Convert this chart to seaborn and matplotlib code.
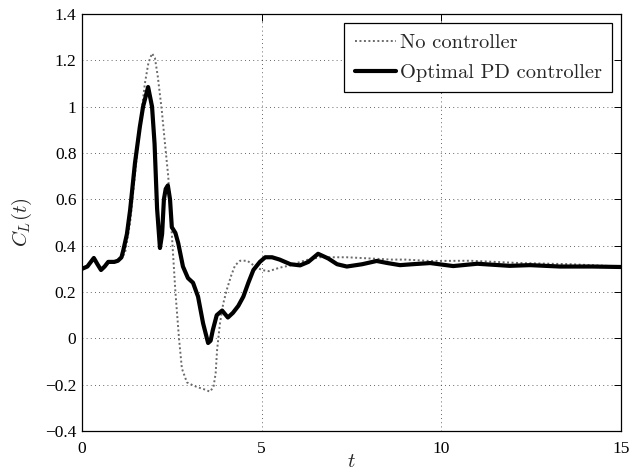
import numpy as np
import pandas as pd
import matplotlib
matplotlib.use("Agg")
import matplotlib.pyplot as plt
import seaborn as sns

# ---- data ----
t_pd = [0, 0.15, 0.33, 0.43, 0.53, 0.63, 0.73, 0.9, 1.0, 1.1, 1.15, 1.25, 1.34, 1.475,
        1.61, 1.7, 1.84, 1.95, 2.02, 2.09, 2.17, 2.23, 2.28, 2.33, 2.39, 2.45, 2.5, 2.6,
        2.68, 2.81, 2.95, 3.09, 3.23, 3.37, 3.51, 3.58, 3.64, 3.75, 3.9, 4.06, 4.2, 4.35,
        4.49, 4.63, 4.77, 4.95, 5.1, 5.29, 5.5, 5.8, 6.07, 6.3, 6.57, 6.85, 7.1, 7.37,
        7.8, 8.2, 8.5, 8.85, 9.2, 9.69, 10.33, 11.0, 11.9, 12.47, 13.3, 14.2, 15]
cl_pd = [0.30, 0.31, 0.347, 0.32, 0.295, 0.31, 0.33, 0.33, 0.335, 0.35, 0.38, 0.45, 0.554, 0.757,
         0.913, 1.0, 1.085, 1.0, 0.84, 0.56, 0.39, 0.45, 0.60, 0.645, 0.66, 0.60, 0.48, 0.455,
         0.41, 0.31, 0.26, 0.24, 0.18, 0.065, -0.02, -0.01, 0.035, 0.10, 0.12, 0.09, 0.11, 0.14,
         0.18, 0.24, 0.295, 0.33, 0.35, 0.35, 0.34, 0.32, 0.315, 0.33, 0.365, 0.345, 0.32, 0.31,
         0.32, 0.334, 0.325, 0.316, 0.32, 0.325, 0.312, 0.322, 0.313, 0.316, 0.31, 0.31, 0.308]

t_nc = [0, 0.15, 0.33, 0.43, 0.53, 0.63, 0.73, 0.9, 1.0, 1.1, 1.2, 1.34, 1.47, 1.6, 1.75,
        1.85, 1.95, 2.03, 2.11, 2.22, 2.31, 2.4, 2.5, 2.6, 2.7, 2.78, 2.92, 3.05, 3.2, 3.4,
        3.56, 3.66, 3.72, 3.76, 3.84, 3.93, 4.03, 4.15, 4.26, 4.4, 4.6, 4.77, 5.0, 5.2, 5.5,
        5.8, 6.07, 6.3, 6.62, 7.0, 7.37, 8.0, 8.6, 9.0, 9.69, 10.8, 12.2, 13.6, 15]
cl_nc = [0.30, 0.31, 0.345, 0.32, 0.295, 0.31, 0.33, 0.33, 0.335, 0.345, 0.37, 0.50, 0.70, 0.90, 1.10,
         1.19, 1.23, 1.21, 1.13, 0.985, 0.84, 0.70, 0.45, 0.20, 0.0, -0.13, -0.19, -0.20, -0.21, -0.22,
         -0.23, -0.21, -0.15, -0.05, 0.065, 0.15, 0.21, 0.27, 0.315, 0.335, 0.335, 0.316, 0.295, 0.29, 0.305,
         0.315, 0.33, 0.34, 0.35, 0.35, 0.35, 0.345, 0.34, 0.34, 0.334, 0.335, 0.325, 0.32, 0.31]

series_names = ["No controller", "Optimal PD controller"]
x_ticks = [0, 5, 10, 15]
y_ticks = [-0.4, -0.2, 0, 0.2, 0.4, 0.6, 0.8, 1, 1.2, 1.4]
y_tick_labels = ["\u22120.4", "\u22120.2", "0", "0.2", "0.4", "0.6", "0.8", "1", "1.2", "1.4"]

sns.set_style("white")
plt.rcParams["font.family"] = ["Liberation Serif", "DejaVu Serif"]
plt.rcParams["mathtext.fontset"] = "cm"

fig = plt.figure(figsize=(6.34, 4.75), dpi=100)
ax = fig.add_axes([0.1293, 0.0926, 0.8502, 0.8779])

sns.lineplot(x=t_nc, y=cl_nc, ax=ax, color="#6a6a6a", linestyle=(0, (1, 1.3)),
             linewidth=1.4, label=series_names[0], sort=False)
sns.lineplot(x=t_pd, y=cl_pd, ax=ax, color="black", linestyle="-",
             linewidth=3.0, label=series_names[1], sort=False,
             solid_joinstyle="round", solid_capstyle="round")

ax.set_xlim(0, 15)
ax.set_ylim(-0.4, 1.4)
ax.set_xticks(x_ticks)
ax.set_xticklabels([str(v) for v in x_ticks])
ax.set_yticks(y_ticks)
ax.set_yticklabels(y_tick_labels)
ax.tick_params(direction="in", length=5, width=0.7, top=True, right=True,
               labelsize=12.5, colors="black")
ax.tick_params(axis="x", pad=7)
ax.tick_params(axis="y", pad=4)
ax.grid(True, linestyle=(0, (1, 4)), color="#333333", linewidth=0.6)
for s in ax.spines.values():
    s.set_visible(True)
    s.set_color("black")
    s.set_linewidth(0.9)

ax.set_xlabel(r"$t$", fontsize=15, labelpad=-3)
ax.set_ylabel(r"$C_L(t)$", fontsize=15, labelpad=8)

leg = ax.legend(loc="upper right", frameon=True, fancybox=False,
                prop={"family": "cmr10", "size": 14.7},
                handlelength=2.0, handletextpad=0.2, borderpad=0.5,
                labelspacing=0.6, borderaxespad=0.45)
leg.get_frame().set_edgecolor("black")
leg.get_frame().set_linewidth(0.9)
leg.get_frame().set_alpha(1)

fig.savefig("out.png", dpi=100)
